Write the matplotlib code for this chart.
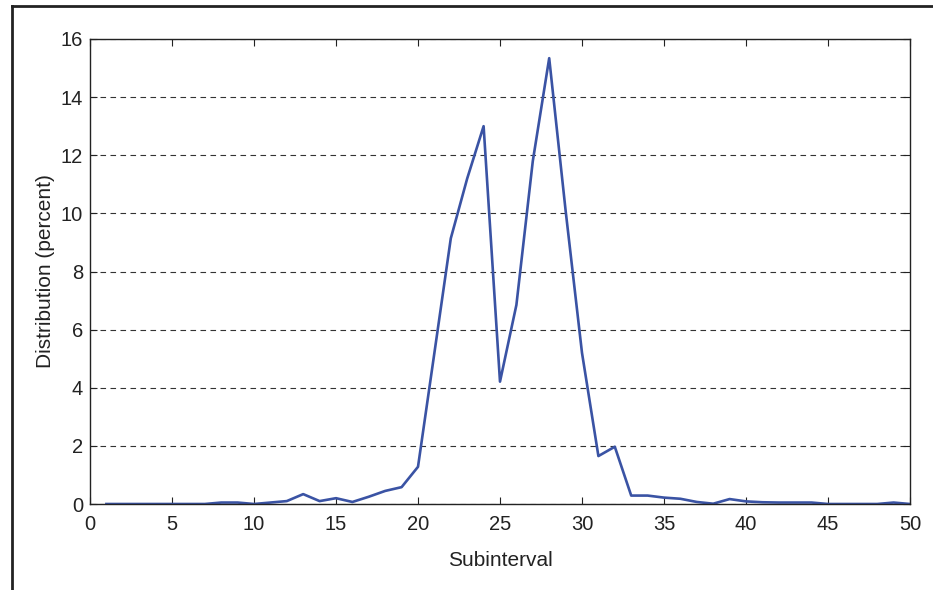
import matplotlib.pyplot as plt
from matplotlib.lines import Line2D

plt.rcParams["font.family"] = ["Liberation Sans", "DejaVu Sans"]

# distribution per subinterval (percent)
subinterval = list(range(1, 51))
distribution = [
    0.0, 0.0, 0.0, 0.0, 0.0, 0.0, 0.0, 0.05, 0.05, 0.0,
    0.05, 0.1, 0.34, 0.1, 0.2, 0.07, 0.25, 0.45, 0.58, 1.28,
    5.2, 9.14, 11.2, 13.0, 4.21, 6.85, 11.8, 15.34, 10.1, 5.2,
    1.65, 1.97, 0.29, 0.29, 0.22, 0.18, 0.07, 0.01, 0.17, 0.09,
    0.06, 0.05, 0.05, 0.05, 0.0, 0.0, 0.0, 0.0, 0.05, 0.0,
]
x_ticks = list(range(0, 51, 5))
y_ticks = list(range(0, 17, 2))

W, H = 933, 590
fig = plt.figure(figsize=(W / 100, H / 100), dpi=100)
ax = fig.add_axes([90 / W, 1 - 504 / H, 820 / W, 465 / H])

ax.plot(subinterval, distribution, color="#3a53a4", lw=1.9)

ax.set_xlim(0, 50)
ax.set_ylim(0, 16)
ax.set_xticks(x_ticks)
ax.set_yticks(y_ticks)
ax.tick_params(direction="in", top=True, right=True, length=5, width=0.8,
               labelsize=14.5, colors="#222222", pad=5)
ax.tick_params(axis="x", pad=8)
ax.grid(axis="y", linestyle=(0, (5, 4)), color="#333333", lw=0.8)
for s in ax.spines.values():
    s.set_linewidth(1.0)
    s.set_color("#222222")

ax.set_xlabel("Subinterval", fontsize=15, color="#222222", labelpad=12)
ax.set_ylabel("Distribution (percent)", fontsize=15, color="#222222", labelpad=4)

# outer frame: top and left edges only
fig.add_artist(Line2D([12 / W, 1], [1 - 6 / H, 1 - 6 / H], transform=fig.transFigure,
                      color="#222222", lw=2))
fig.add_artist(Line2D([12 / W, 12 / W], [0, 1 - 6 / H], transform=fig.transFigure,
                      color="#222222", lw=2))

fig.savefig("out.png", dpi=100)
